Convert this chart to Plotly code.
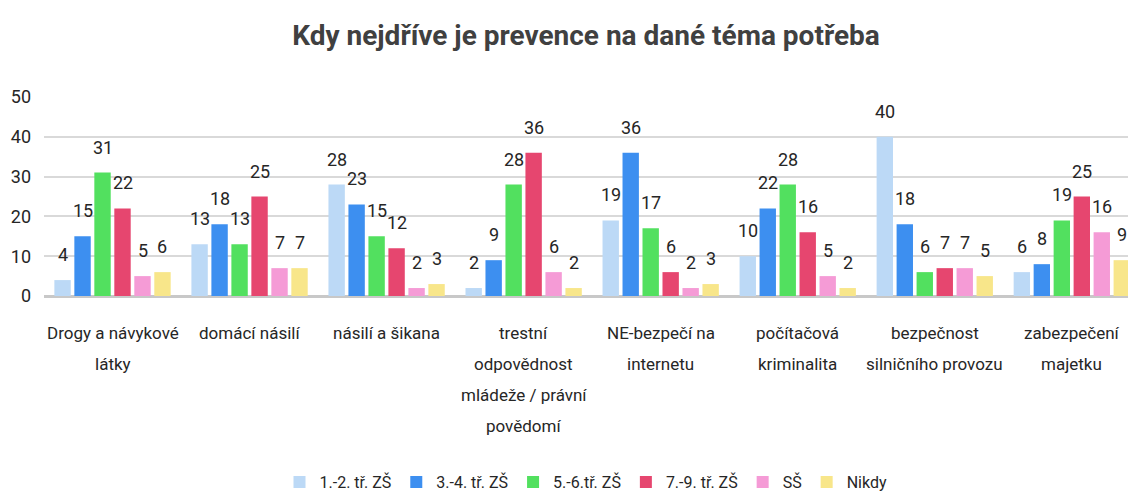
import plotly.graph_objects as go

title = "Kdy nejdříve je prevence na dané téma potřeba"

categories = [
    "Drogy a návykové<br>látky",
    "domácí násilí",
    "násilí a šikana",
    "trestní<br>odpovědnost<br>mládeže / právní<br>povědomí",
    "NE-bezpečí na<br>internetu",
    "počítačová<br>kriminalita",
    "bezpečnost<br>silničního provozu",
    "zabezpečení<br>majetku",
]

series_names = ["1.-2. tř. ZŠ", "3.-4. tř. ZŠ", "5.-6.tř. ZŠ", "7.-9. tř. ZŠ", "SŠ", "Nikdy"]

grade_1_2 = [4, 13, 28, 2, 19, 10, 40, 6]
grade_3_4 = [15, 18, 23, 9, 36, 22, 18, 8]
grade_5_6 = [31, 13, 15, 28, 17, 28, 6, 19]
grade_7_9 = [22, 25, 12, 36, 6, 16, 7, 25]
high_school = [5, 7, 2, 6, 2, 5, 7, 16]
never = [6, 7, 3, 2, 3, 2, 5, 9]

series_values = [grade_1_2, grade_3_4, grade_5_6, grade_7_9, high_school, never]
colors = ["#bcd9f6", "#3d8ff0", "#52e05f", "#e6466f", "#f59bd6", "#f8e68a"]

y_ticks = [0, 10, 20, 30, 40, 50]

FONT = "Roboto, Lato, sans-serif"
TEXT = "#262626"
BARGAP = 0.125
GROUPGAP = 0.18

fig = go.Figure()
positions = list(range(len(categories)))
for name, vals, col in zip(series_names, series_values, colors):
    fig.add_trace(go.Bar(
        x=positions, y=vals, name=name,
        marker=dict(color=col, line=dict(width=0)),
    ))

# value labels above each bar
n = len(series_values)
slot = (1 - BARGAP) / n
for i, vals in enumerate(series_values):
    for j, v in enumerate(vals):
        fig.add_annotation(
            x=j + (i - (n - 1) / 2) * slot, y=v, text=str(v),
            showarrow=False, yanchor="bottom", yshift=13,
            font=dict(family=FONT, size=18, color=TEXT),
        )

# category labels under the axis, one line at a time for wider line spacing
for j, label in enumerate(categories):
    for k, line in enumerate(label.split("<br>")):
        fig.add_annotation(
            x=j, y=0, text=line, showarrow=False,
            xanchor="center", yanchor="middle", yshift=-37 - 31 * k,
            font=dict(family=FONT, size=17, color=TEXT),
        )

fig.update_layout(
    width=1128, height=499,
    paper_bgcolor="white", plot_bgcolor="white",
    barmode="group", bargap=BARGAP, bargroupgap=GROUPGAP,
    margin=dict(l=44, r=0, t=97, b=203, autoexpand=False),
    title=dict(
        text="<b>" + title + "</b>", x=0.5, xref="paper", xanchor="center",
        y=0.93, yanchor="middle",
        font=dict(family=FONT, size=28, color="#404040"),
    ),
    showlegend=True,
    legend=dict(
        orientation="h", x=0.5, xanchor="center", y=-1.02, yanchor="bottom",
        font=dict(family=FONT, size=16, color=TEXT),
        itemwidth=30, tracegroupgap=0,
    ),
    xaxis=dict(
        range=[-0.5, 7.41], tickvals=positions, showticklabels=False,
        ticks="", showgrid=False, zeroline=False, showline=False,
        fixedrange=True,
    ),
    yaxis=dict(
        range=[0, 50], tickvals=y_ticks, ticks="",
        showgrid=True, gridcolor="#d9d9d9", gridwidth=2,
        zeroline=True, zerolinecolor="#c8c8c8", zerolinewidth=3,
        tickfont=dict(family=FONT, size=18, color=TEXT),
        ticklabelstandoff=12, fixedrange=True,
    ),
)

fig.write_html("out.html")
